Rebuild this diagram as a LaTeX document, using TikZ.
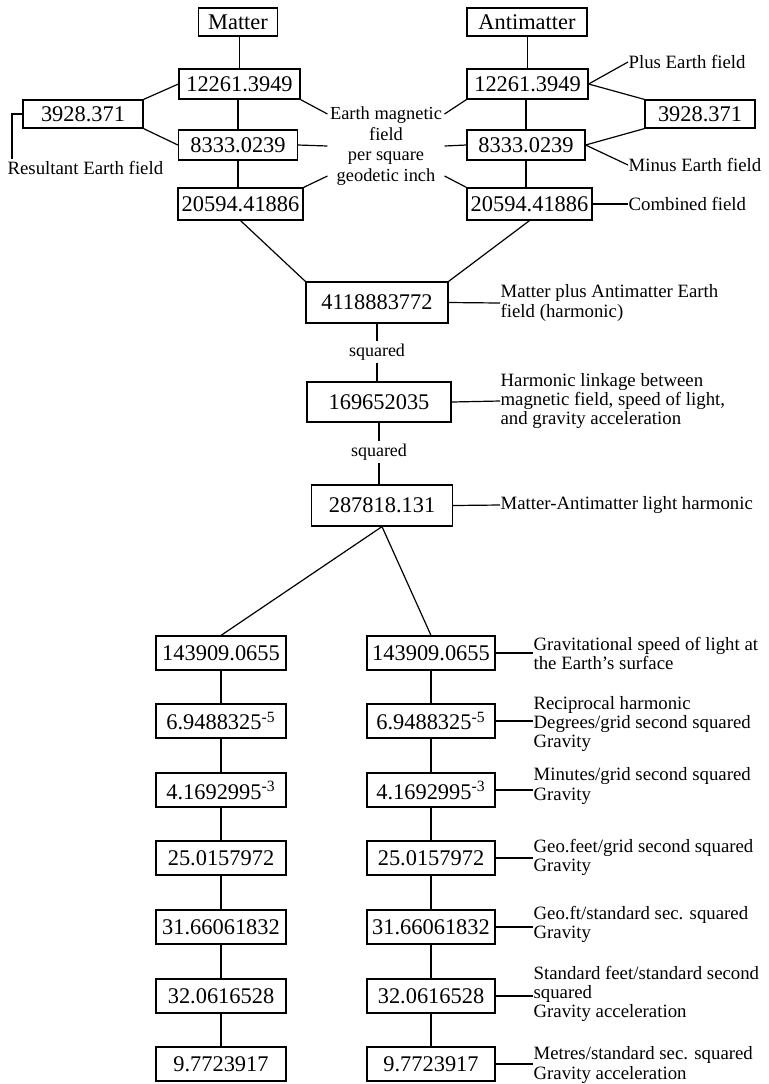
\documentclass[tikz,border=0pt]{standalone}
\usepackage{fontspec}
\setmainfont{Liberation Serif}
\begin{document}
\begin{tikzpicture}[x=0.5pt,y=-0.5pt,line width=0.6pt,
  box/.style={draw,inner sep=0pt,font=\fontsize{11.2}{13}\selectfont,minimum height=15pt},
  note/.style={inner sep=0pt,anchor=west,align=left,font=\fontsize{9.4}{9.6}\selectfont},
  sq/.style={inner sep=1pt,font=\fontsize{9}{10}\selectfont}]
\useasboundingbox (0,0) rectangle (768,1084);
\node[box,minimum width=39.5pt,minimum height=14pt] (matter) at (238,22) {Matter};
\node[box,minimum width=60pt,minimum height=14pt] (anti) at (527,22) {Antimatter};
\node[box,minimum width=60.5pt] (lplus) at (239.5,84) {12261.3949};
\node[box,minimum width=60.5pt] (rplus) at (527.5,84) {12261.3949};
\node[box,minimum width=60pt,minimum height=14pt] (lres) at (83,114) {3928.371};
\node[box,minimum width=55pt,minimum height=14pt] (rres) at (700,114) {3928.371};
\node[box,minimum width=59.5pt] (lminus) at (238,145) {8333.0239};
\node[box,minimum width=59pt] (rminus) at (526,145) {8333.0239};
\node[box,minimum width=62.5pt,minimum height=16pt] (lcomb) at (240.5,204) {20594.41886};
\node[box,minimum width=62.5pt,minimum height=16pt] (rcomb) at (529.5,204) {20594.41886};
\node[inner sep=0pt,align=center,font=\fontsize{9.2}{10.3}\selectfont] (emf) at (386,146) {Earth magnetic\\field\\per square\\geodetic inch};
\node[note] (resl) at (7,168) {Resultant Earth field};
\node[note] (plusl) at (628,62) {Plus Earth field};
\node[note] (minusl) at (628,165) {Minus Earth field};
\node[note] (combl) at (628,204) {Combined field};
\draw (lplus.north) -- (lplus.north |- matter.south);
\draw (rplus.north) -- (rplus.north |- anti.south);
\draw (lminus.north) -- (lminus.north |- lplus.south);
\draw (rminus.north) -- (rminus.north |- rplus.south);
\draw (lminus.south) -- (lminus.south |- lcomb.north);
\draw (rminus.south) -- (rminus.south |- rcomb.north);
\draw (lres.north east) -- (lplus.west);
\draw (lres.south east) -- (lminus.west);
\draw (lres.west) -| ([xshift=2.5pt,yshift=1pt]resl.north west);
\draw (lplus.south east) -- ([xshift=-1pt,yshift=16pt]emf.west);
\draw (rplus.south west) -- ([xshift=1pt,yshift=16pt]emf.east);
\draw (lminus.east) -- ([xshift=-1pt]emf.west);
\draw (rminus.west) -- ([xshift=1pt]emf.east);
\draw (lcomb.north east) -- ([xshift=-1pt,yshift=-15pt]emf.west);
\draw (rcomb.north west) -- ([xshift=1pt,yshift=-15pt]emf.east);
\draw (rplus.east) -- (plusl.west);
\draw (rplus.east) -- (rres.north west);
\draw (rminus.east) -- (rres.south west);
\draw (rminus.east) -- (minusl.west);
\draw (rcomb.east) -- (combl.west);
\node[box,minimum width=71pt,minimum height=20.5pt] (harm) at (377,302.5) {4118883772};
\node[note] (harml) at (500,303) {Matter plus Antimatter Earth\\field (harmonic)};
\node[sq] (sqa) at (377,352) {squared};
\node[box,minimum width=72pt,minimum height=20pt] (link) at (379,402) {169652035};
\node[note] (linkl) at (500,401) {Harmonic linkage between\\magnetic field, speed of light,\\and gravity acceleration};
\node[sq] (sqb) at (379,452) {squared};
\node[box,minimum width=70.5pt,minimum height=20.5pt] (light) at (382,505.5) {287818.131};
\node[note] (lightl) at (500,505) {Matter-Antimatter light harmonic};
\draw (lcomb.south) -- (harm.north west);
\draw (rcomb.south) -- (harm.north east);
\draw (harm.east) -- (harml.west);
\draw (harm.south) -- (sqa.north);
\draw (sqa.south) -- (sqa.south |- link.north);
\draw (link.east) -- (linkl.west);
\draw (link.south) -- (sqb.north);
\draw (sqb.south) -- (sqb.south |- light.north);
\draw (light.east) -- (lightl.west);
\node[box,minimum width=65pt,minimum height=17pt] (la) at (221,653) {143909.0655};
\node[box,minimum width=65pt,minimum height=17pt] (lb) at (221,721) {6.9488325\textsuperscript{-5}};
\node[box,minimum width=65pt,minimum height=17pt] (lc) at (221,790) {4.1692995\textsuperscript{-3}};
\node[box,minimum width=65pt,minimum height=17pt] (ld) at (221,858) {25.0157972};
\node[box,minimum width=65pt,minimum height=17pt] (le) at (221,927) {31.66061832};
\node[box,minimum width=65pt,minimum height=17pt] (lf) at (221,996) {32.0616528};
\node[box,minimum width=65pt,minimum height=17pt] (lg) at (221,1064) {9.7723917};
\node[box,minimum width=64pt,minimum height=17pt] (ra) at (431,653) {143909.0655};
\node[box,minimum width=64pt,minimum height=17pt] (rb) at (431,721) {6.9488325\textsuperscript{-5}};
\node[box,minimum width=64pt,minimum height=17pt] (rc) at (431,790) {4.1692995\textsuperscript{-3}};
\node[box,minimum width=64pt,minimum height=17pt] (rd) at (431,858) {25.0157972};
\node[box,minimum width=64pt,minimum height=17pt] (re) at (431,927) {31.66061832};
\node[box,minimum width=64pt,minimum height=17pt] (rf) at (431,996) {32.0616528};
\node[box,minimum width=64pt,minimum height=17pt] (rg) at (431,1064) {9.7723917};
\node[note] (ral) at (533,653.5) {Gravitational speed of light at\\the Earth's surface};
\node[note] (rbl) at (533,724) {Reciprocal harmonic\\Degrees/grid second squared\\Gravity};
\node[note] (rcl) at (533,786) {Minutes/grid second squared\\Gravity};
\node[note] (rdl) at (533,857) {Geo.feet/grid second squared\\Gravity};
\node[note] (rel) at (533,924) {Geo.ft/standard sec. squared\\Gravity};
\node[note] (rfl) at (533,994) {Standard feet/standard second\\squared\\Gravity acceleration};
\node[note] (rgl) at (533,1065) {Metres/standard sec. squared\\Gravity acceleration};
\draw (light.south) -- (la.north);
\draw (light.south) -- (ra.north);
\draw (la.south) -- (lb.north);
\draw (lb.south) -- (lc.north);
\draw (lc.south) -- (ld.north);
\draw (ld.south) -- (le.north);
\draw (le.south) -- (lf.north);
\draw (lf.south) -- (lg.north);
\draw (ra.south) -- (rb.north);
\draw (rb.south) -- (rc.north);
\draw (rc.south) -- (rd.north);
\draw (rd.south) -- (re.north);
\draw (re.south) -- (rf.north);
\draw (rf.south) -- (rg.north);
\draw (ra.east) -- (ra.east -| ral.west);
\draw (rb.east) -- (rb.east -| rbl.west);
\draw (rc.east) -- (rc.east -| rcl.west);
\draw (rd.east) -- (rd.east -| rdl.west);
\draw (re.east) -- (re.east -| rel.west);
\draw (rf.east) -- (rf.east -| rfl.west);
\draw (rg.east) -- (rg.east -| rgl.west);
\end{tikzpicture}
\end{document}
